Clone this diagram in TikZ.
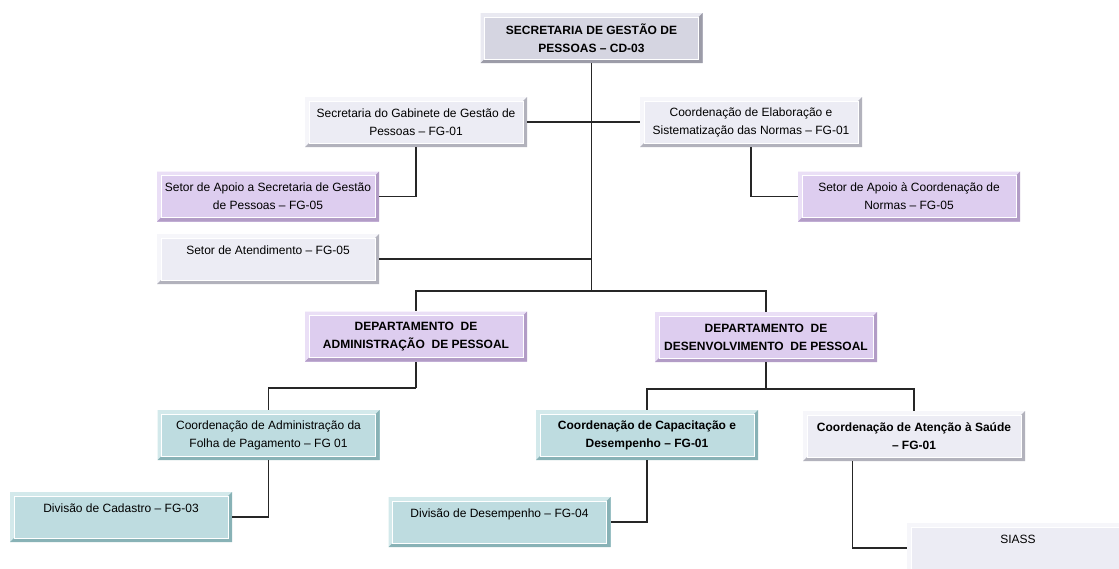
\documentclass[tikz,border=0pt]{standalone}
\usepackage{fontspec}
\setmainfont{Liberation Sans}
\usetikzlibrary{positioning,calc}
\def\bw{2pt}
\definecolor{headfill}{HTML}{D5D5E1}
\definecolor{headlite}{HTML}{E9E9F1}
\definecolor{headdark}{HTML}{9C9CA8}
\definecolor{greyfill}{HTML}{ECECF4}
\definecolor{greylite}{HTML}{F6F6FA}
\definecolor{greydark}{HTML}{B2B2BC}
\definecolor{lilafill}{HTML}{DDCDEF}
\definecolor{lilalite}{HTML}{EADFF6}
\definecolor{liladark}{HTML}{B29CC6}
\definecolor{tealfill}{HTML}{BEDCE0}
\definecolor{teallite}{HTML}{D3E9EB}
\definecolor{tealdark}{HTML}{88B2B6}
\tikzset{bevel/.style 2 args={path picture={
  \fill[#1] (path picture bounding box.north west) -- (path picture bounding box.north east)
     -- ([shift={(-\bw,-\bw)}]path picture bounding box.north east)
     -- ([shift={(\bw,-\bw)}]path picture bounding box.north west)
     -- ([shift={(\bw,\bw)}]path picture bounding box.south west)
     -- (path picture bounding box.south west) -- cycle;
  \fill[#2] (path picture bounding box.south west) -- (path picture bounding box.south east)
     -- (path picture bounding box.north east)
     -- ([shift={(-\bw,-\bw)}]path picture bounding box.north east)
     -- ([shift={(-\bw,\bw)}]path picture bounding box.south east)
     -- ([shift={(\bw,\bw)}]path picture bounding box.south west) -- cycle;
  \draw[white,line width=0.3pt] ([shift={(\bw,\bw)}]path picture bounding box.south west)
     rectangle ([shift={(-\bw,-\bw)}]path picture bounding box.north east);}}}
\tikzstyle{unit}=[rectangle,minimum width=111pt,minimum height=25pt,inner sep=1pt,
    align=center,font=\fontsize{6}{9}\selectfont]
\tikzstyle{head}=[unit,fill=headfill,bevel={headlite}{headdark},font=\fontsize{6}{9}\selectfont\bfseries]
\tikzstyle{grey}=[unit,fill=greyfill,bevel={greylite}{greydark}]
\tikzstyle{lila}=[unit,fill=lilafill,bevel={lilalite}{liladark}]
\tikzstyle{teal}=[unit,fill=tealfill,bevel={teallite}{tealdark}]
\tikzstyle{strong}=[font=\fontsize{6}{9}\selectfont\bfseries]
\tikzstyle{link}=[draw=black!85,line width=0.7pt]
\newcommand{\newUnit}[4]{\node[#3](#1) at (#4) {#2};}
\newcommand{\newLink}[3]{\draw[link] (#1) #3 (#2);}

\begin{document}
\begin{tikzpicture}[x=0.5pt,y=-0.5pt]
    \fill[white] (0,0) rectangle (1119,568);
    \useasboundingbox (0,0) rectangle (1119,568);
    % secretaria e assessorias
    \newUnit{sec}{SECRETARIA DE GESTÃO DE\\PESSOAS – CD-03}{head}{591.5,38}
    \newUnit{gab}{Secretaria do Gabinete de Gestão de\\Pessoas – FG-01}{grey}{416,122}
    \newUnit{elab}{Coordenação de Elaboração e\\Sistematização das Normas – FG-01}{grey}{751,122}
    \newUnit{apsec}{Setor de Apoio a Secretaria de Gestão\\de Pessoas – FG-05}{lila}{268,196.5}
    \newUnit{apcoo}{Setor de Apoio à Coordenação de\\Normas – FG-05}{lila}{909,196.5}
    \newUnit{atend}{Setor de Atendimento – FG-05\\~}{grey}{268,259}
    % departamentos
    \newUnit{dadm}{DEPARTAMENTO\ \ DE\\ADMINISTRAÇÃO\ \ DE PESSOAL}{lila,strong}{416,336.5}
    \newUnit{ddes}{DEPARTAMENTO\ \ DE\\DESENVOLVIMENTO\ \ DE PESSOAL}{lila,strong}{766,337}
    % coordenacoes
    \newUnit{folha}{Coordenação de Administração da\\Folha de Pagamento – FG 01}{teal}{268.5,435}
    \newUnit{capac}{Coordenação de Capacitação e\\Desempenho – FG-01}{teal,strong}{647,435}
    \newUnit{saude}{Coordenação de Atenção à Saúde\\– FG-01}{grey,strong}{914,436}
    \newUnit{cad}{Divisão de Cadastro – FG-03\\~}{teal}{121,517}
    \newUnit{desemp}{Divisão de Desempenho – FG-04\\~}{teal}{499.5,522}
    \newUnit{siass}{SIASS\\~}{grey}{1018,548}
    \coordinate (hub) at (591.5,291);
    \coordinate (jadm) at (416,388);
    \coordinate (jdes) at (766,389);
    % ligacoes
    \newLink{sec.south}{hub}{--}
    \newLink{gab.east}{gab.east -| sec.south}{--}
    \newLink{elab.west}{elab.west -| sec.south}{--}
    \newLink{atend.east}{atend.east -| sec.south}{--}
    \newLink{gab.south}{apsec.east}{|-}
    \newLink{elab.south}{apcoo.west}{|-}
    \newLink{hub}{dadm.north}{-|}
    \newLink{hub}{ddes.north}{-|}
    \newLink{dadm.south}{jadm}{--}
    \newLink{jadm}{folha.north}{-|}
    \newLink{ddes.south}{jdes}{--}
    \newLink{jdes}{capac.north}{-|}
    \newLink{jdes}{saude.north}{-|}
    \newLink{folha.south}{cad.east}{|-}
    \newLink{capac.south}{desemp.east}{|-}
    \newLink{$(saude.south west)!0.225!(saude.south east)$}{siass.west}{|-}
\end{tikzpicture}
\end{document}
